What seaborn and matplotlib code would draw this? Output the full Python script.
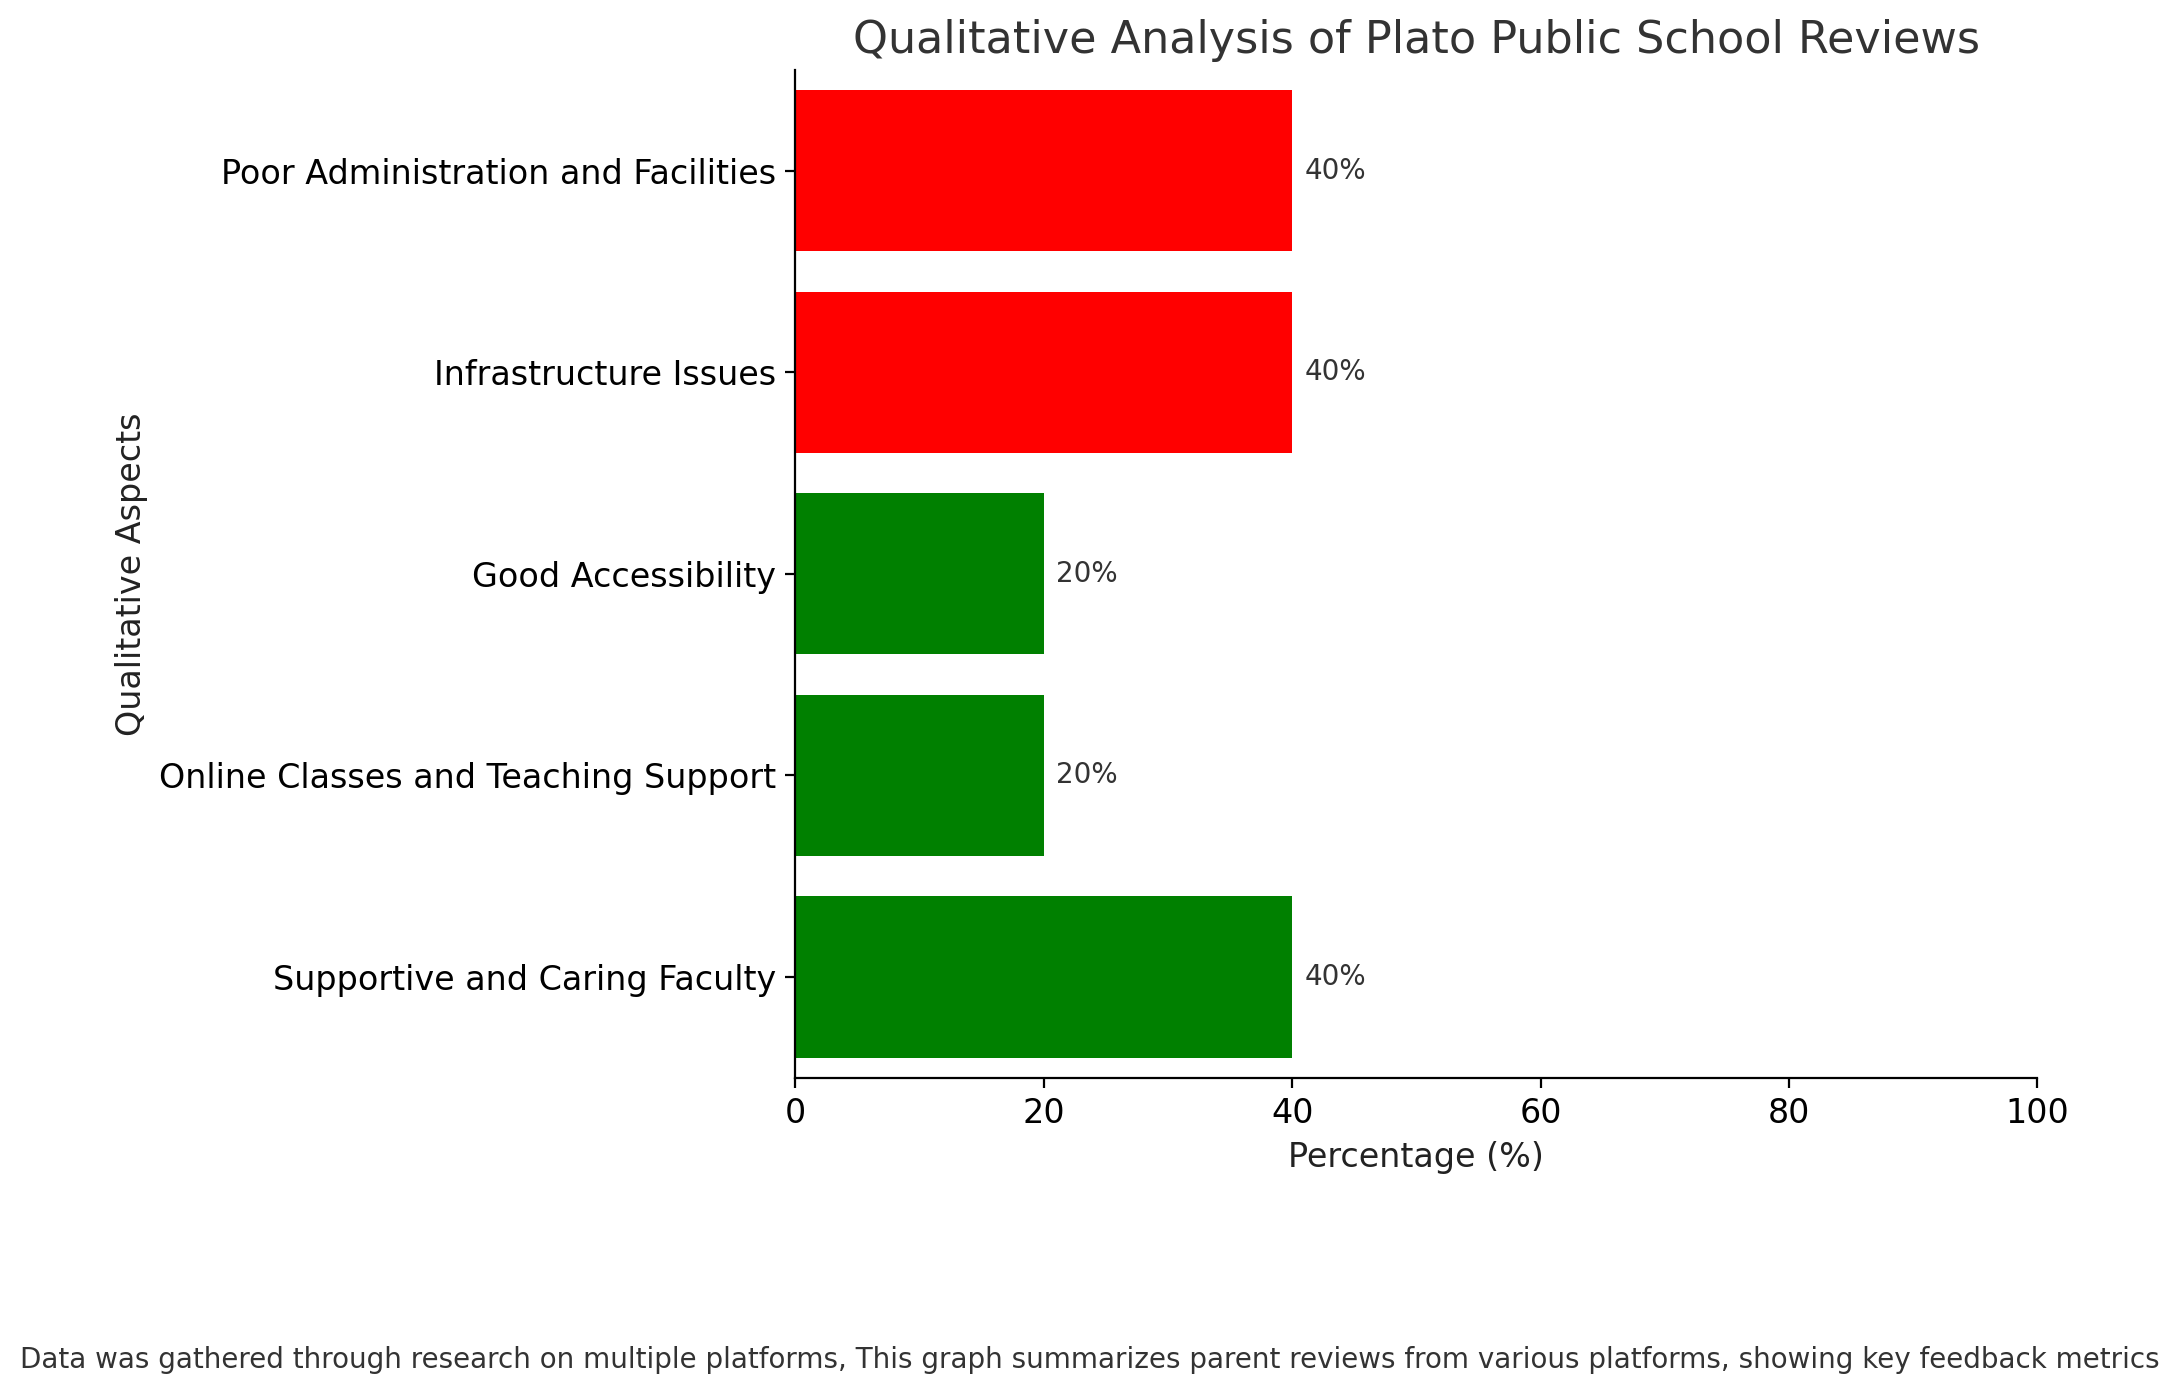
import matplotlib
matplotlib.use('Agg')
import matplotlib.pyplot as plt
import seaborn as sns
import pandas as pd

# top to bottom
aspects = ['Poor Administration and Facilities', 'Infrastructure Issues', 'Good Accessibility',
           'Online Classes and Teaching Support', 'Supportive and Caring Faculty']
percentages = [40, 40, 20, 20, 40]
colors = ['red', 'red', 'green', 'green', 'green']

df = pd.DataFrame({'Aspect': aspects, 'Pct': percentages})

fig = plt.figure(figsize=(10.895, 6.98), dpi=200)
ax = fig.add_axes([0.365, 0.228, 0.57, 0.722])
sns.barplot(data=df, x='Pct', y='Aspect', hue='Aspect', order=aspects,
            palette=dict(zip(aspects, colors)), saturation=1, width=0.8, legend=False, ax=ax)

for i, v in enumerate(percentages):
    ax.text(v + 1, i, f'{v}%', va='center', fontsize=10, color='#333333')

ax.set_xlim(0, 100)
ax.set_xticks([0, 20, 40, 60, 80, 100])
ax.set_xlabel('Percentage (%)', fontsize=12, color='#222222')
ax.set_ylabel('Qualitative Aspects', fontsize=12, color='#222222')
ax.set_title('Qualitative Analysis of Plato Public School Reviews', fontsize=16, color='#333333')
ax.tick_params(labelsize=12)
ax.spines['top'].set_visible(False)
ax.spines['right'].set_visible(False)

fig.text(0.5, 0.02, 'Data was gathered through research on multiple platforms, This graph summarizes parent reviews '
         'from various platforms, showing key feedback metrics', ha='center', fontsize=10, color='#333333')

fig.savefig('out.png', dpi=200)
